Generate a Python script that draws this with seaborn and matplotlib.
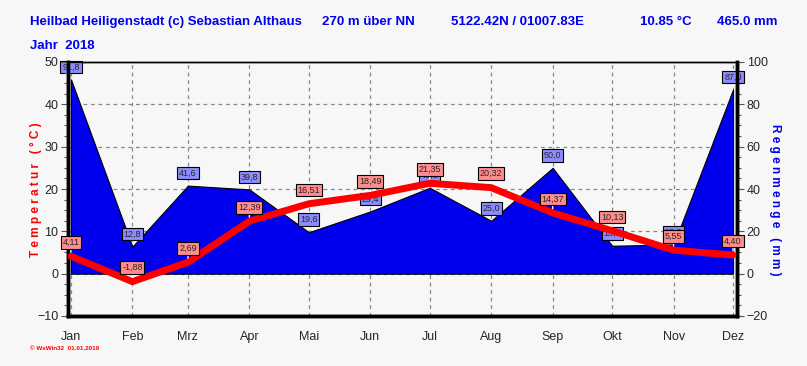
import matplotlib
matplotlib.use('Agg')
import matplotlib.pyplot as plt
import seaborn as sns
import numpy as np
import pandas as pd
from matplotlib.ticker import MultipleLocator, FixedLocator

# data
months = ['Jan', 'Feb', 'Mrz', 'Apr', 'Mai', 'Jun', 'Jul', 'Aug', 'Sep', 'Okt', 'Nov', 'Dez']
month_day = [0, 31, 59, 90, 120, 151, 181, 212, 243, 273, 304, 334]
temp = [4.11, -1.88, 2.69, 12.39, 16.51, 18.49, 21.35, 20.32, 14.37, 10.13, 5.55, 4.40]
rain = [91.8, 12.8, 41.6, 39.8, 19.6, 29.4, 40.6, 25.0, 50.0, 13.2, 13.8, 87.0]

df = pd.DataFrame({'day': month_day, 'month': months, 'temp': temp, 'rain': rain})

sns.set_style('white')
plt.rcParams['font.family'] = ['Liberation Sans', 'DejaVu Sans']

bg = '#f7f7f7'
fig = plt.figure(figsize=(8.07, 3.66), dpi=100, facecolor=bg)
ax = fig.add_axes([68/807, 50/366, 669/807, 254/366])
ax2 = ax.twinx()
ax.set_zorder(ax2.get_zorder() + 1)
ax.patch.set_visible(False)
ax2.set_facecolor(bg)

# rain area (behind, with the grid)
ax2.fill_between(df['day'], 0, df['rain'], color='#0000ee', edgecolor='black', linewidth=0.8, zorder=2)
ax2.set_ylim(-20, 100)
ax2.yaxis.set_major_locator(MultipleLocator(20))
ax2.yaxis.set_minor_locator(MultipleLocator(5))
ax2.xaxis.set_visible(True)
ax2.set_xticks(month_day)
ax2.tick_params(axis='x', which='both', bottom=False, top=False, labelbottom=False, labeltop=False)
ax2.grid(True, which='major', color='#888888', linestyle=(0, (3, 3)), linewidth=0.9, zorder=0)
ax2.set_axisbelow(True)

# temperature line
sns.lineplot(data=df, x='day', y='temp', ax=ax, color='#ff0000', linewidth=5, zorder=5)
ax.set_ylim(-10, 50)
ax.set_xlim(-1.5, 336)
ax.yaxis.set_major_locator(MultipleLocator(10))
ax.yaxis.set_minor_locator(MultipleLocator(2.5))
ax.set_xticks(month_day)
ax.set_xticklabels(months)
minor = []
for a, b in zip(month_day[:-1], month_day[1:]):
    minor += [a + (b - a) * k / 4 for k in (1, 2, 3)]
ax.xaxis.set_minor_locator(FixedLocator(minor))
ax2.set_xlim(ax.get_xlim())

for a in (ax, ax2):
    a.tick_params(axis='y', which='major', length=5, width=0.8, labelsize=9, color='#555555', pad=2)
    a.tick_params(axis='y', which='minor', length=3, width=0.8, color='#555555')
    for s in a.spines.values():
        s.set_color('black')
    a.spines['left'].set_linewidth(2.5)
    a.spines['right'].set_linewidth(2.5)
    a.spines['bottom'].set_linewidth(2.5)
    a.spines['top'].set_linewidth(1)
ax.tick_params(axis='x', which='major', length=5, width=0.8, labelsize=9, color='#555555', pad=6)
ax.tick_params(axis='x', which='minor', length=3, width=0.8, color='#555555')
ax.set_xlabel('')
ax.set_ylabel('')

# value labels
for d, t, r in zip(month_day, temp, rain):
    ax2.annotate(f'{r:.1f}'.replace('.', ','), (d, r), xytext=(0, 9), textcoords='offset points',
                 ha='center', va='center', fontsize=6.5, zorder=6,
                 bbox=dict(boxstyle='square,pad=0.2', fc='#8c8cff', ec='black', lw=0.8))
    ax.annotate(f'{t:.2f}'.replace('.', ','), (d, t), xytext=(0, 10), textcoords='offset points',
                ha='center', va='center', fontsize=6.5, zorder=7,
                bbox=dict(boxstyle='square,pad=0.2', fc='#ff8c8c', ec='black', lw=0.8),
                arrowprops=dict(arrowstyle='-', color='white', lw=1, shrinkA=0, shrinkB=3))

# header texts
blue = '#0000ee'
hdr = dict(color=blue, fontsize=9.5, fontweight='bold', va='center', family=['Liberation Sans Narrow', 'Liberation Sans'])
fig.text(30/807, 1 - 22/366, 'Heilbad Heiligenstadt (c) Sebastian Althaus', **hdr)
fig.text(322/807, 1 - 22/366, '270 m über NN', **hdr)
fig.text(451/807, 1 - 22/366, '5122.42N / 01007.83E', **hdr)
fig.text(640/807, 1 - 22/366, '10.85 °C', **hdr)
fig.text(717/807, 1 - 22/366, '465.0 mm', **hdr)
fig.text(30/807, 1 - 46/366, 'Jahr  2018', **hdr)

fig.text(36/807, 1 - 190/366, 'T e m p e r a t u r   ( ° C )', color='red', fontsize=8.5, fontweight='bold',
         rotation=90, ha='center', va='center')
fig.text(775/807, 1 - 200/366, 'R e g e n m e n g e   ( m m )', color=blue, fontsize=8.5, fontweight='bold',
         rotation=-90, ha='center', va='center')
fig.text(30/807, 1 - 348/366, '© WsWin32  01.01.2019', color='red', fontsize=4.5, fontweight='bold', va='center')

fig.savefig('out.png', dpi=100, facecolor=bg)
